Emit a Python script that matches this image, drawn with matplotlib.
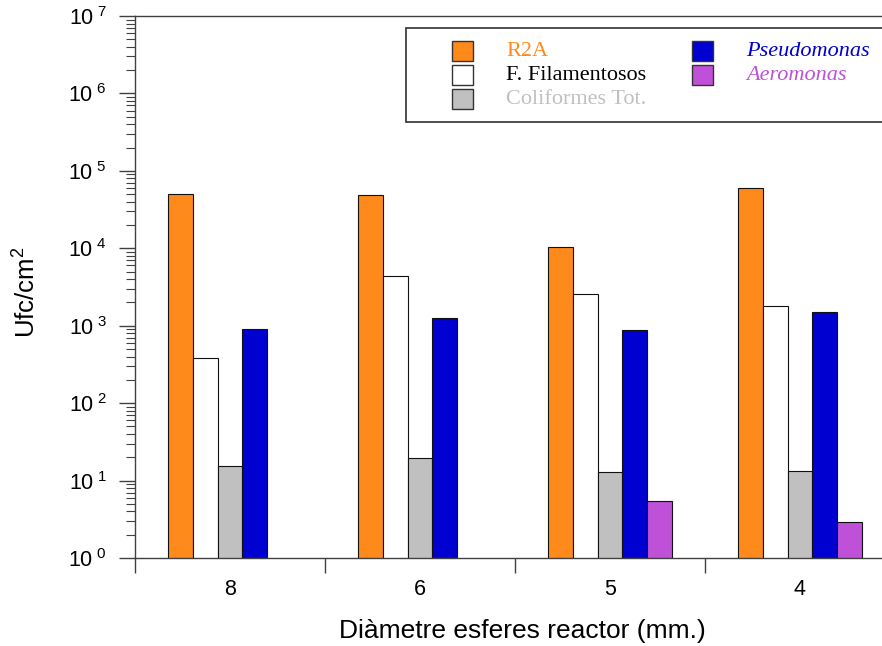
import numpy as np
import matplotlib
matplotlib.use("Agg")
import matplotlib.pyplot as plt
from matplotlib.patches import Rectangle
from matplotlib.ticker import FixedLocator, LogLocator, FuncFormatter, NullFormatter

# Diàmetre de les esferes (mm) i recomptes (ufc/cm2) per grup microbià
diametres = ["8", "6", "5", "4"]
r2a = [5.0e4, 4.9e4, 1.05e4, 6.0e4]
filamentosos = [380, 4400, 2570, 1800]
coliformes = [15.4, 19.4, 12.8, 13.4]
pseudomonas = [900, 1270, 870, 1520]
aeromonas = [np.nan, np.nan, 5.45, 2.9]

series = [r2a, filamentosos, coliformes, pseudomonas, aeromonas]
noms = ["R2A", "F. Filamentosos", "Coliformes Tot.", "Pseudomonas", "Aeromonas"]
colors = ["#FF8A1C", "#FFFFFF", "#C0C0C0", "#0000D0", "#BF50D8"]
text_colors = ["#FF8A1C", "#000000", "#C0C0C0", "#0000D0", "#BF50D8"]

plt.rcParams["font.family"] = ["Liberation Sans", "DejaVu Sans"]
plt.rcParams["mathtext.fontset"] = "custom"
plt.rcParams["mathtext.rm"] = "Liberation Sans"
plt.rcParams["mathtext.it"] = "Liberation Sans:italic"

W, H = 882, 646
fig = plt.figure(figsize=(W / 100, H / 100), dpi=100)


def px(x, y):
    return x / W, 1 - y / H


# els eixos continuen per la dreta fins a 895 px
ax = fig.add_axes([135 / W, (H - 558) / H, 760 / W, 542 / H])

x = np.arange(len(diametres))
amplada = 0.13
for i, (vals, col) in enumerate(zip(series, colors)):
    ax.bar(x + (i - 2) * amplada, vals, amplada, color=col,
           edgecolor="#111111", linewidth=0.8, zorder=2)

ax.set_yscale("log")
ax.set_ylim(1, 1e7)
ax.set_xlim(-0.5, 3.5)

eix_col = "#404040"
for s in ["left", "top", "bottom"]:
    ax.spines[s].set_color(eix_col)
    ax.spines[s].set_linewidth(1.0)
ax.spines["right"].set_visible(False)

ax.yaxis.set_major_locator(LogLocator(base=10, numticks=10))
ax.yaxis.set_minor_locator(LogLocator(base=10, subs=np.arange(2, 10), numticks=20))
ax.yaxis.set_minor_formatter(NullFormatter())
ax.yaxis.set_major_formatter(FuncFormatter(
    lambda v, p: r"$\mathregular{10^{\ %d}}$" % round(np.log10(v))))
ax.tick_params(axis="y", which="major", direction="out", length=11.5,
               width=1.0, color=eix_col, labelsize=15.5, pad=9)
ax.tick_params(axis="y", which="minor", direction="out", length=6.5,
               width=0.8, color=eix_col)

# separadors entre grups i etiquetes al centre
ax.xaxis.set_major_locator(FixedLocator(np.arange(-0.5, 4.0, 1.0)))
ax.xaxis.set_major_formatter(NullFormatter())
ax.xaxis.set_minor_locator(FixedLocator(x))
ax.set_xticklabels(diametres, minor=True)
ax.tick_params(axis="x", which="major", direction="out", length=11,
               width=1.0, color=eix_col)
ax.tick_params(axis="x", which="minor", length=0, labelsize=15.5, pad=15)

fig.text(*px(522, 631), "Diàmetre esferes reactor (mm.)", fontsize=19,
         ha="center", va="center")
fig.text(*px(27, 292), r"Ufc/cm$^\mathregular{2}$", fontsize=18.5,
         rotation=90, ha="center", va="center")

# llegenda dibuixada a mà
caixa = Rectangle(px(406, 122), 600 / W, 94 / H, transform=fig.transFigure,
                  facecolor="white", edgecolor="#303030", linewidth=1.2,
                  zorder=5)
fig.patches.append(caixa)

posicions = [(452, 51), (452, 75), (452, 99), (692, 51), (692, 75)]
for (lx, ly), nom, col, tcol in zip(posicions, noms, colors, text_colors):
    fig.patches.append(Rectangle(px(lx, ly + 10), 21 / W, 20 / H,
                                 transform=fig.transFigure, facecolor=col,
                                 edgecolor="#333333", linewidth=1.0, zorder=6))
    estil = "italic" if nom in ("Pseudomonas", "Aeromonas") else "normal"
    fig.text(*px(lx + 54, ly), nom, fontsize=16, color=tcol, style=estil,
             family=["Liberation Serif", "DejaVu Serif"], ha="left",
             va="center", zorder=7)

fig.savefig("out.png", dpi=100)
